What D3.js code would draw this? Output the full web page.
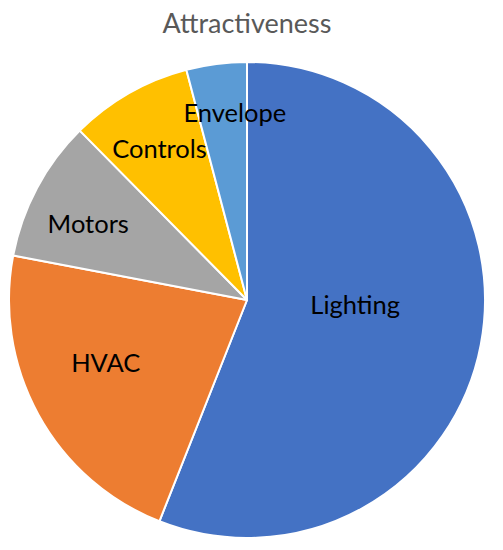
<!DOCTYPE html>
<html>
<head>
<meta charset="utf-8">
<script src="https://cdn.jsdelivr.net/npm/d3@7"></script>
<style>
  body { margin: 0; background: #fff; }
  svg { display: block; }
</style>
</head>
<body>
<div id="chart"></div>
<script>
// data (share of total, %)
const categories = ["Lighting", "HVAC", "Motors", "Controls", "Envelope"];
const values = [56.0, 22.0, 9.6, 8.3, 4.1];
const colors = ["#4472C4", "#ED7D31", "#A5A5A5", "#FFC000", "#5B9BD5"];

// label placement inside each slice: [fraction along the slice angle, fraction of radius]
const labelPlace = [[0.46, 0.455], [0.56, 0.65], [0.43, 0.74], [0.49, 0.735], [0.75, 0.79]];

const width = 503;
const height = 550;
const cx = 247;
const cy = 300;
const radius = 238;
const font = "Lato, 'Open Sans', sans-serif";

const svg = d3.select("#chart")
    .append("svg")
    .attr("width", width)
    .attr("height", height);

svg.append("text")
    .attr("x", cx)
    .attr("y", 33)
    .attr("text-anchor", "middle")
    .attr("font-family", font)
    .attr("font-size", 27)
    .attr("fill", "#595959")
    .text("Attractiveness");

const pie = d3.pie().sort(null).value(d => d)(values);

const arc = d3.arc()
    .innerRadius(0)
    .outerRadius(radius);

const g = svg.append("g")
    .attr("transform", `translate(${cx},${cy})`);

g.selectAll("path")
    .data(pie)
    .join("path")
    .attr("d", arc)
    .attr("fill", (d, i) => colors[i])
    .attr("stroke", "#fff")
    .attr("stroke-width", 2)
    .attr("stroke-linejoin", "round");

g.selectAll("text")
    .data(pie)
    .join("text")
    .attr("transform", (d, i) => {
        const [t, rf] = labelPlace[i];
        const a = d.startAngle + (d.endAngle - d.startAngle) * t;
        const p = d3.pointRadial(a, radius * rf);
        return `translate(${p[0]},${p[1]})`;
    })
    .attr("text-anchor", "middle")
    .attr("dy", "0.36em")
    .attr("font-family", font)
    .attr("font-size", 25.5)
    .attr("fill", "#000")
    .text((d, i) => categories[i]);
</script>
</body>
</html>
